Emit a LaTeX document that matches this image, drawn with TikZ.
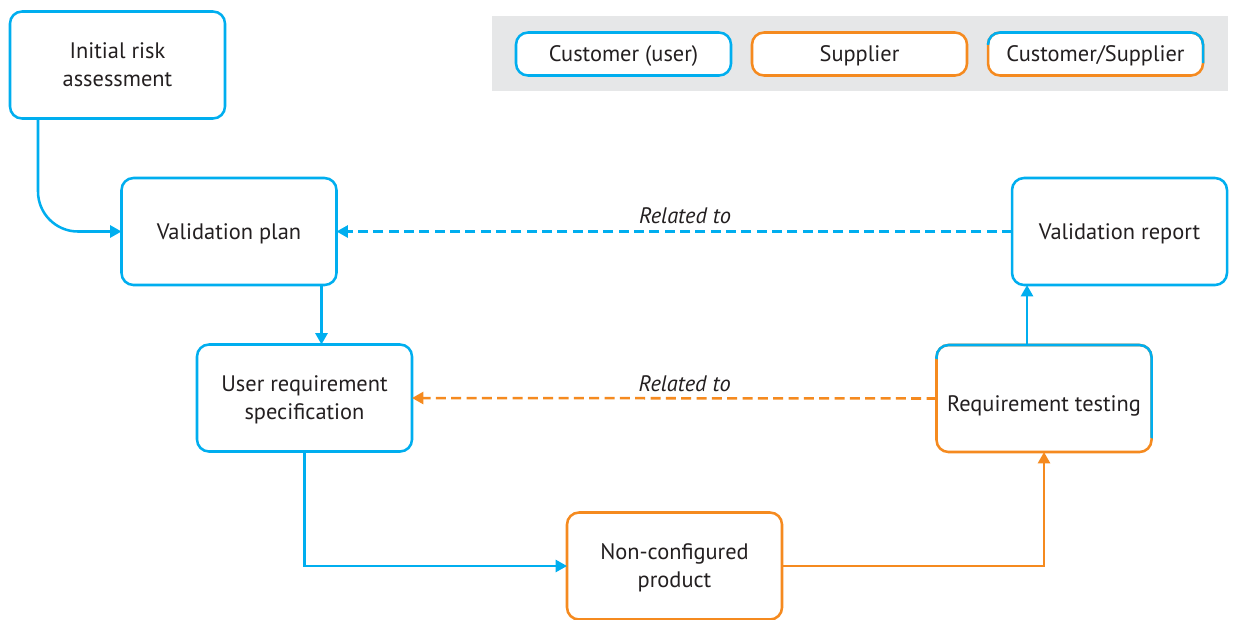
\documentclass[tikz,border=0pt]{standalone}
\usepackage{fontspec}
\setmainfont{PT Sans}
\usetikzlibrary{arrows.meta,calc}
\definecolor{cust}{HTML}{00AEEF}
\definecolor{supp}{HTML}{F58A1F}
\definecolor{ink}{HTML}{231F20}
\definecolor{legendbg}{HTML}{E6E7E8}
\tikzset{
  stage/.style={draw, line width=1.9pt, rounded corners=9pt, fill=white,
    minimum width=161.25pt, minimum height=80.25pt, align=center,
    text=ink, font=\fontsize{16.8pt}{21pt}\selectfont, inner sep=0pt,
    outer sep=0pt, text depth=0pt},
  keybox/.style={draw, line width=1.9pt, rounded corners=9pt, fill=white,
    minimum width=161.25pt, minimum height=32.25pt, align=center,
    text=ink, font=\fontsize{16.8pt}{21pt}\selectfont, inner sep=0pt,
    outer sep=0pt, text depth=0pt},
  link/.style={line width=1.9pt, -{Triangle[length=8.5pt,width=9pt]}},
  relation/.style={link, dash pattern=on 7.5pt off 4pt},
  rellabel/.style={text=ink, font=\fontsize{16.8pt}{20pt}\selectfont\itshape, inner sep=1pt},
}
\begin{document}
\begin{tikzpicture}[x=0.75pt,y=-0.75pt]
\useasboundingbox (0,0) rectangle (1237,619);

% legend
\fill[legendbg] (492,16) rectangle (1228,91);
\node[keybox, draw=cust] (kcust) at (623.5,54) {Customer (user)};
\node[keybox, draw=supp] (ksupp) at (859.5,54) {Supplier};
\node[keybox, draw=supp] (kboth) at (1095.5,54) {Customer/Supplier};
\begin{scope}
  \clip ([xshift=-4pt,yshift=4pt]kboth.north west) -- ([xshift=4pt,yshift=4pt]kboth.north east)
    -- ([xshift=4pt,yshift=9pt]kboth.south east) -- ([xshift=-4pt,yshift=-9pt]kboth.north west) -- cycle;
  \draw[cust, line width=1.9pt, rounded corners=9pt] (kboth.south west) rectangle (kboth.north east);
\end{scope}

% process stages
\node[stage, draw=cust] (init) at (117.5,65) {Initial risk\\assessment};
\node[stage, draw=cust] (vplan) at (229,231.5) {Validation plan};
\node[stage, draw=cust] (urs) at (304.5,398) {User requirement\\specification};
\node[stage, draw=supp] (ncp) at (674.5,566) {Non-configured\\product};
\node[stage, draw=supp] (rt) at (1044,398.5) {\raisebox{-4pt}[\height][\depth]{Requirement testing}};
\node[stage, draw=cust] (vrep) at (1119.5,231.5) {Validation report};
\begin{scope}
  \clip ([xshift=-4pt,yshift=4pt]rt.north west) -- ([xshift=4pt,yshift=4pt]rt.north east)
    -- ([xshift=4pt,yshift=9pt]rt.south east) -- ([xshift=-4pt,yshift=-9pt]rt.north west) -- cycle;
  \draw[cust, line width=1.9pt, rounded corners=9pt] (rt.south west) rectangle (rt.north east);
\end{scope}

% connectors
\draw[link, cust, rounded corners=30pt] ([xshift=21pt]init.south west) |- (vplan.west);
\draw[link, cust] ([xshift=-11.25pt]vplan.south east) -- ([xshift=-11.25pt]vplan.south east |- urs.north);
\draw[link, cust] (urs.south) |- (ncp.west);
\draw[link, supp] (ncp.east) -| (rt.south);
\draw[link, cust] ([xshift=-12.75pt]rt.north) -- ([xshift=-12.75pt]rt.north |- vrep.south);
\draw[relation, cust] (vrep.west) -- node[pos=0.484, above=4pt, rellabel] {Related to} (vplan.east);
\draw[relation, supp] (rt.west) -- node[pos=0.48, above=3pt, rellabel] {Related to} (urs.east);
\end{tikzpicture}
\end{document}
